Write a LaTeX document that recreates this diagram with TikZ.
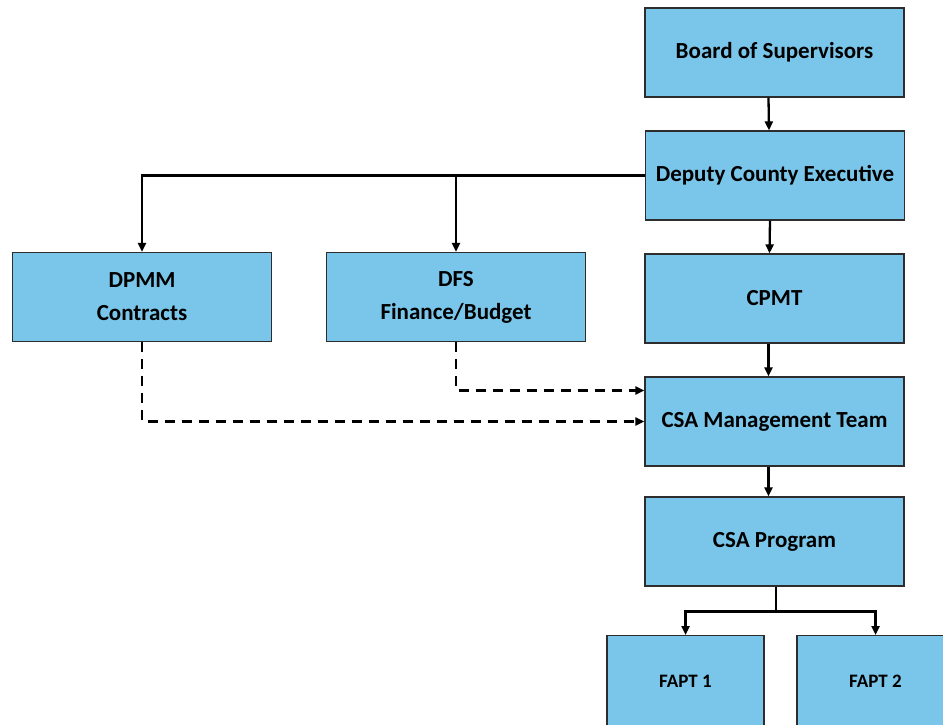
\documentclass[tikz,border=0pt]{standalone}
\usepackage{fontspec}
\setmainfont{Carlito}
\usetikzlibrary{arrows.meta}
\definecolor{boxblue}{RGB}{122,198,234}
\definecolor{boxline}{RGB}{45,45,45}
\tikzset{
  box/.style={draw=boxline, line width=1.2pt, fill=boxblue, minimum width=259, minimum height=89,
    inner sep=0pt, align=center, font=\fontsize{23}{33}\selectfont\bfseries},
  smallbox/.style={box, minimum width=157, minimum height=100, font=\fontsize{19}{26}\selectfont\bfseries},
  arr/.style={line width=2.3pt, -{Triangle[length=9,width=8]}},
  plain/.style={line width=2.3pt},
  dasharr/.style={line width=2.3pt, dash pattern=on 10pt off 7pt, -{Triangle[length=9,width=8]}}
}
\begin{document}
\begin{tikzpicture}[x=1pt,y=-1pt]
\useasboundingbox (0,0) rectangle (943,724);
\clip (0,0) rectangle (943,724);
\node[box] (board) at (774.5,52.5) {\raisebox{-3pt}{Board of Supervisors}};
\node[box] (deputy) at (775,175.5) {\raisebox{-3pt}{Deputy County Executive}};
\node[box] (dpmm) at (142,297) {DPMM\\Contracts};
\node[box] (dfs) at (456,297) {DFS\\Finance/Budget};
\node[box] (cpmt) at (774.5,298.5) {\raisebox{-2pt}{CPMT}};
\node[box] (csa) at (774.5,421.5) {\raisebox{-3pt}{CSA Management Team}};
\node[box] (prog) at (774.5,541.5) {\raisebox{-3pt}{CSA Program}};
\node[smallbox,anchor=north] (fapt1) at (685.5,635) {\raisebox{8pt}{FAPT 1}};
\node[smallbox,anchor=north] (fapt2) at (875.5,635) {\raisebox{8pt}{FAPT 2}};
% solid connectors
\draw[arr] ([xshift=-6]board.south) -- ([xshift=-6]deputy.north);
\draw[arr] ([xshift=-5]deputy.south) -- ([xshift=-5]cpmt.north);
\draw[arr] ([xshift=-6]cpmt.south) -- ([xshift=-6]csa.north);
\draw[arr] ([xshift=-6]csa.south) -- ([xshift=-6]prog.north);
\draw[arr] (deputy.west) -| (dpmm.north);
\draw[arr] (deputy.west -| dfs.north) -- (dfs.north);
\draw[plain] ([xshift=1.5]prog.south) -- ++(0,25) coordinate (br);
\draw[arr] (br) -| (fapt1.north);
\draw[arr] (br) -| (fapt2.north);
% dashed connectors
\draw[dasharr] (dpmm.south) |- (csa.west);
\draw[dasharr] (dfs.south) |- ([yshift=31]csa.west);
\end{tikzpicture}
\end{document}
